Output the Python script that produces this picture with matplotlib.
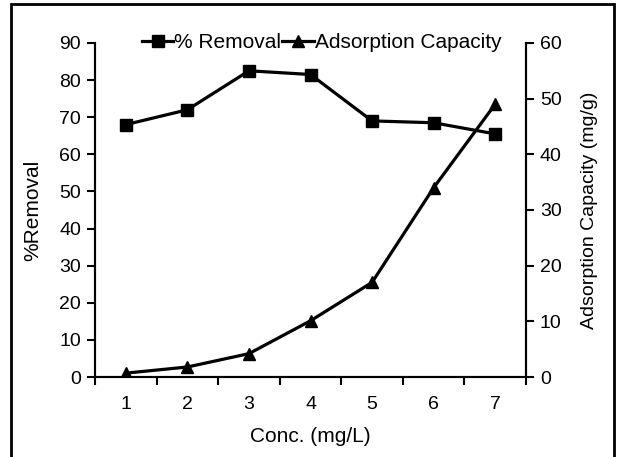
import numpy as np
import matplotlib
matplotlib.use('Agg')
import matplotlib.pyplot as plt
from matplotlib.patches import Rectangle

plt.rcParams['font.family'] = ['Liberation Sans', 'DejaVu Sans']
plt.rcParams['font.size'] = 14

conc = [1, 2, 3, 4, 5, 6, 7]
removal = [68, 72, 82.5, 81.5, 69, 68.5, 65.5]
capacity = [0.7, 1.8, 4.2, 10.1, 17, 34, 49]

fig = plt.figure(figsize=(6.17, 4.57), dpi=100)
ax = fig.add_axes([0.154, 0.175, 0.6985, 0.731])
ax2 = ax.twinx()

l1, = ax.plot(conc, removal, color='black', lw=2.3, marker='s', ms=8.5, label='% Removal')
l2, = ax2.plot(conc, capacity, color='black', lw=2.3, marker='^', ms=8.5, label='Adsorption Capacity')

ax.set_xlim(0.5, 7.5)
ax.set_ylim(0, 90)
ax.set_yticks(np.arange(0, 91, 10))
ax2.set_ylim(0, 60)
ax2.set_yticks(np.arange(0, 61, 10))

# category style x axis: ticks between categories, labels centred
ax.set_xticks(np.arange(0.5, 7.6, 1))
ax.set_xticklabels([])
ax.set_xticks(conc, minor=True)
ax.set_xticklabels([str(c) for c in conc], minor=True)
ax.tick_params(axis='x', which='minor', length=0, pad=14)
ax.tick_params(axis='x', which='major', direction='out', length=6, width=1.5)
ax.tick_params(axis='y', direction='out', length=6, width=1.5, pad=4)
ax2.tick_params(axis='y', direction='out', length=6, width=1.5, pad=4)

for a in (ax, ax2):
    a.spines['top'].set_visible(False)
    for s in ('left', 'right', 'bottom'):
        a.spines[s].set_linewidth(1.5)

ax.set_xlabel('Conc. (mg/L)', fontsize=15, labelpad=10)
ax.set_ylabel('%Removal', fontsize=15, labelpad=12)
ax2.set_ylabel('Adsorption Capacity (mg/g)', fontsize=14, labelpad=14)

ax.legend([l1, l2], ['% Removal', 'Adsorption Capacity'], loc='center',
          bbox_to_anchor=(0.526, 1.0), ncol=2, frameon=False, fontsize=15,
          handlelength=1.5, handletextpad=0.05, columnspacing=0.05,
          borderaxespad=0)

# outer frame around figure
fig.add_artist(Rectangle((11 / 617, -0.1), 603 / 617, 1.1 - 4 / 457,
                         transform=fig.transFigure, fill=False, lw=2, ec='black'))

fig.savefig('out.png', dpi=100)
